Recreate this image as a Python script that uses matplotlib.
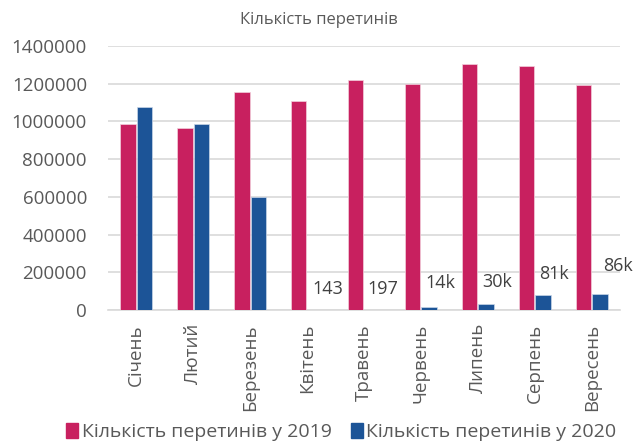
import numpy as np
import matplotlib.pyplot as plt
from matplotlib.patches import Patch

months = ['Січень', 'Лютий', 'Березень', 'Квітень', 'Травень',
          'Червень', 'Липень', 'Серпень', 'Вересень']
crossings_2019 = [986000, 966000, 1156000, 1108000, 1218000,
                  1198000, 1305000, 1294000, 1193000]
crossings_2020 = [1076000, 986000, 599000, 143, 197,
                  14000, 30000, 81000, 86000]
# labels shown above the small 2020 bars (index -> text)
small_labels = {3: '143', 4: '197', 5: '14k', 6: '30k', 7: '81k', 8: '86k'}
label_shift = {3: (13, 21), 4: (11, 21), 5: (11, 24), 6: (11, 22), 7: (11, 21), 8: (18, 28)}

pink = '#C8205F'
blue = '#1C5497'
text_col = '#595959'
grid_col = '#D9D9D9'

plt.rcParams['font.family'] = ['Open Sans', 'DejaVu Sans']

fig = plt.figure(figsize=(6.38, 4.41), dpi=100)
ax = fig.add_axes([0.169, 0.297, 0.803, 0.599])

x = np.arange(len(months))
w = 0.27
ax.bar(x - w / 2 - 0.01, crossings_2019, w, color=pink, edgecolor='#f2d0dc', linewidth=0.5, zorder=3)
bars20 = ax.bar(x + w / 2 + 0.01, crossings_2020, w, color=blue, edgecolor='#c9d6e8', linewidth=0.5, zorder=3)

for i, txt in small_labels.items():
    b = bars20[i]
    ax.annotate(txt, (b.get_x() + b.get_width() / 2, b.get_height()),
                xytext=label_shift[i], textcoords='offset pixels',
                ha='center', va='center', fontsize=13, color='#404040')

ax.set_ylim(0, 1400000)
ax.set_xlim(-0.5, len(months) - 0.5)
ax.set_yticks(np.arange(0, 1400001, 200000))
ax.set_yticklabels([str(v) for v in range(0, 1400001, 200000)])
ax.yaxis.grid(True, color=grid_col, linewidth=1.2, zorder=0)
ax.set_axisbelow(True)
for s in ['top', 'right', 'left']:
    ax.spines[s].set_visible(False)
ax.spines['bottom'].set_color(grid_col)
ax.spines['bottom'].set_linewidth(1.2)
ax.tick_params(axis='both', length=0, colors=text_col, labelsize=13.5)
ax.tick_params(axis='y', pad=15)
ax.set_xticks(x)
ax.set_xticklabels(months, rotation=90, va='top', ha='center')
ax.tick_params(axis='x', pad=10)

fig.text(0.50, 0.955, 'Кількість перетинів', ha='center', va='center',
         fontsize=12, color=text_col)

handles = [Patch(color=pink, label='Кількість перетинів у 2019'),
           Patch(color=blue, label='Кількість перетинів у 2020')]
fig.legend(handles=handles, loc='center', bbox_to_anchor=(0.535, 0.02),
           ncol=2, frameon=False, fontsize=14, labelcolor=text_col,
           handlelength=0.6, handleheight=0.8, handletextpad=0.2, columnspacing=1.0)

fig.savefig('out.png', dpi=100)
